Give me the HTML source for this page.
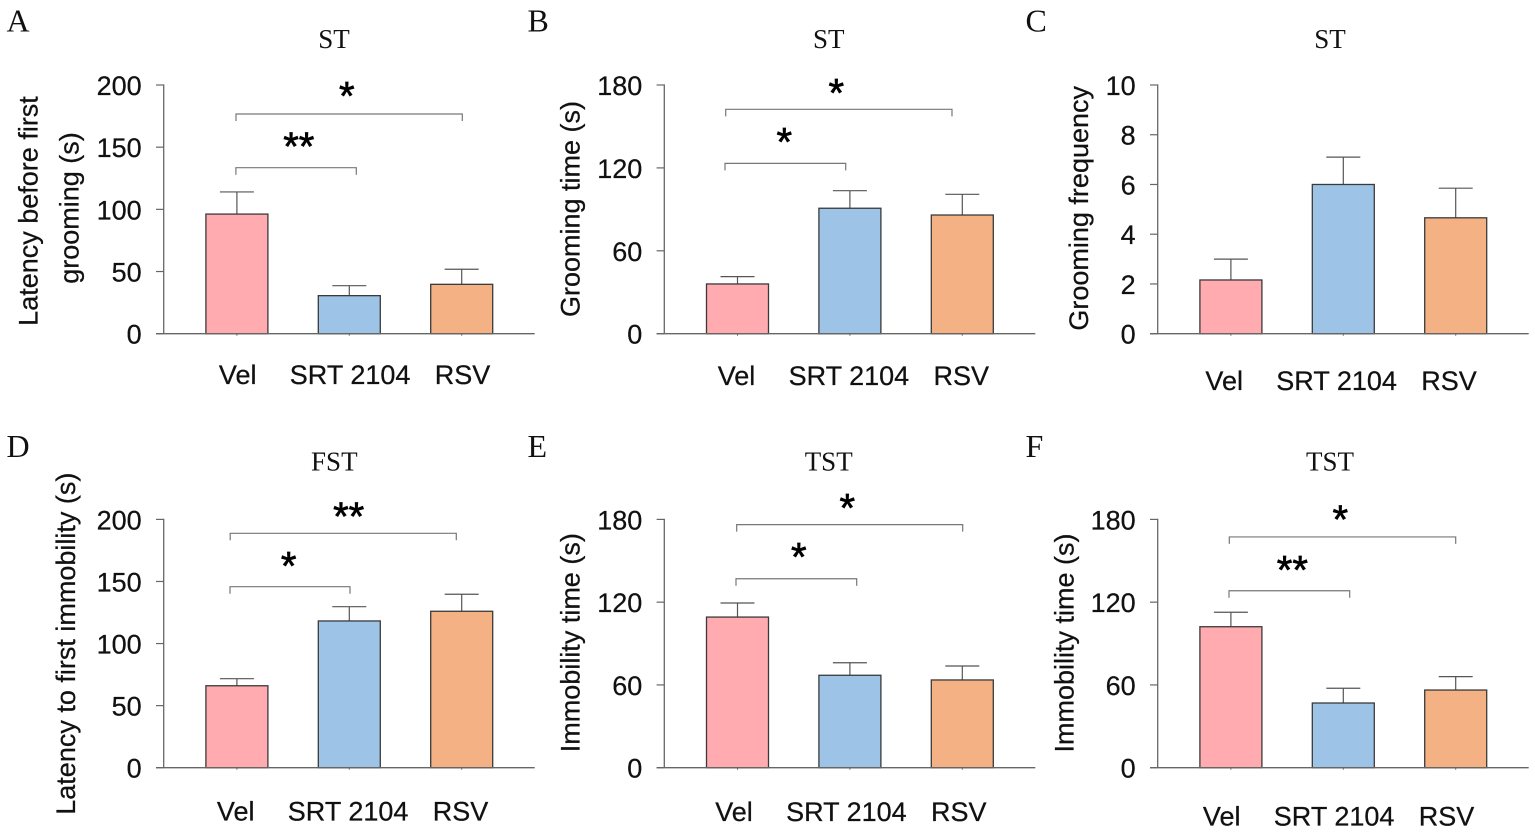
<!DOCTYPE html>
<html lang="en">
<head>
<meta charset="utf-8">
<title>Behavioural test bar charts</title>
<style>
html,body{margin:0;padding:0;background:#fff;width:1535px;height:835px;overflow:hidden}
svg{display:block}
.sans{font-family:"Liberation Sans",Arial,sans-serif;font-size:27px;fill:#111;stroke:#111;stroke-width:.25px}
.serif{font-family:"Liberation Serif","Times New Roman",serif;fill:#111}
.title{font-size:27px}
.letter{font-size:32px}
</style>
</head>
<body>
<svg id="figure" xmlns="http://www.w3.org/2000/svg" width="1535" height="835" viewBox="0 0 1535 835">
  <text class="serif letter" x="6.5" y="31.5">A</text>
  <text class="serif letter" x="527.5" y="31.5">B</text>
  <text class="serif letter" x="1025.5" y="31.5">C</text>
  <text class="serif letter" x="6.5" y="457">D</text>
  <text class="serif letter" x="527.5" y="457">E</text>
  <text class="serif letter" x="1025.5" y="457">F</text>

  <text class="serif title" x="334" y="48" text-anchor="middle">ST</text>
  <text class="serif title" x="828.7" y="48" text-anchor="middle">ST</text>
  <text class="serif title" x="1330" y="48" text-anchor="middle">ST</text>
  <text class="serif title" x="334.3" y="470.3" text-anchor="middle">FST</text>
  <text class="serif title" x="828.7" y="470.3" text-anchor="middle">TST</text>
  <text class="serif title" x="1330" y="470.3" text-anchor="middle">TST</text>

  <text class="sans" transform="translate(37.5 211) rotate(-90)" text-anchor="middle">Latency before first</text>
  <text class="sans" transform="translate(78.3 208) rotate(-90)" text-anchor="middle">grooming (s)</text>
  <text class="sans" transform="translate(579.3 209) rotate(-90)" text-anchor="middle">Grooming time (s)</text>
  <text class="sans" transform="translate(1088 208.3) rotate(-90)" text-anchor="middle">Grooming frequency</text>
  <text class="sans" transform="translate(75 643.7) rotate(-90)" text-anchor="middle">Latency to first immobility (s)</text>
  <text class="sans" transform="translate(579.3 642.7) rotate(-90)" text-anchor="middle">Immobility time (s)</text>
  <text class="sans" transform="translate(1073.3 643) rotate(-90)" text-anchor="middle">Immobility time (s)</text>
</svg>
<script>
const categories = ['Vel', 'SRT 2104', 'RSV'];

const ticksA = [0, 50, 100, 150, 200];
const valuesA = [96.2, 30.6, 39.7];
const errorTopsA = [114, 38.6, 51.8];
const bracketLevelsA = [133.5, 176.7];
const bracketStarsA = ['**', '*'];

const ticksB = [0, 60, 120, 180];
const valuesB = [36, 90.8, 85.9];
const errorTopsB = [41.3, 103.5, 100.9];
const bracketLevelsB = [123.3, 162.4];
const bracketStarsB = ['*', '*'];

const ticksC = [0, 2, 4, 6, 8, 10];
const valuesC = [2.16, 6, 4.66];
const errorTopsC = [3, 7.1, 5.85];
const bracketLevelsC = [];
const bracketStarsC = [];

const ticksD = [0, 50, 100, 150, 200];
const valuesD = [66, 118.2, 126];
const errorTopsD = [71.7, 129.7, 139.7];
const bracketLevelsD = [145.8, 188.8];
const bracketStarsD = ['*', '**'];

const ticksE = [0, 60, 120, 180];
const valuesE = [109.2, 67, 63.6];
const errorTopsE = [119.4, 76.1, 73.7];
const bracketLevelsE = [137, 176.2];
const bracketStarsE = ['*', '*'];

const ticksF = [0, 60, 120, 180];
const valuesF = [102.2, 46.9, 56.3];
const errorTopsF = [112.7, 57.6, 66];
const bracketLevelsF = [128.3, 167.3];
const bracketStarsF = ['**', '*'];

const barColors = ['#ffabb0', '#9dc3e6', '#f4b183'];
const NS = 'http://www.w3.org/2000/svg';
const svg = document.getElementById('figure');

function mk(parent, tag, attrs, text) {
  const el = document.createElementNS(NS, tag);
  for (const k in attrs) el.setAttribute(k, attrs[k]);
  if (text !== undefined) el.textContent = text;
  parent.appendChild(el);
  return el;
}

function drawPanel(p) {
  const g = mk(svg, 'g', {});
  
  

  const yMax = p.ticks[p.ticks.length - 1];
  const yScale = v => p.y0 - (v / yMax) * p.yH;
  const xScale = i => p.x0 + 73.2 + i * 112.4;
  const axisColor = '#666';

  p.ticks.forEach(t => {
    const tick = mk(g, 'line', {x1: p.x0 - 7.7, x2: p.x0, y1: yScale(t), y2: yScale(t), stroke: axisColor, 'stroke-width': 1.2});
    
    
    const label = mk(g, 'text', {class: 'sans', x: p.x0 - 22, y: yScale(t) + 10, 'text-anchor': 'end'}, String(t));
    
    
  });

  const yAxis = mk(g, 'line', {x1: p.x0, x2: p.x0, y1: yScale(yMax) - 0.6, y2: p.y0, stroke: axisColor, 'stroke-width': 1.3});
  
  

  p.values.forEach((v, i) => {
    const cx = xScale(i);
    const stem = mk(g, 'line', {x1: cx, x2: cx, y1: yScale(p.errorTops[i]), y2: yScale(v), stroke: '#555', 'stroke-width': 1.2});
    
    
    const cap = mk(g, 'line', {x1: cx - 17, x2: cx + 17, y1: yScale(p.errorTops[i]), y2: yScale(p.errorTops[i]), stroke: '#555', 'stroke-width': 1.2});
    
    
    const bar = mk(g, 'rect', {x: cx - 31, y: yScale(v), width: 62, height: p.y0 - yScale(v), fill: barColors[i], stroke: '#3a3a3a', 'stroke-width': 1.3});
    
    
    const xTick = mk(g, 'line', {x1: cx, x2: cx, y1: p.y0, y2: p.y0 + 2, stroke: axisColor, 'stroke-width': 1});
    
    
    const catLabel = mk(g, 'text', {class: 'sans', x: cx + p.labelDx, y: p.labelY, 'text-anchor': 'middle'}, categories[i]);
    
    
  });

  const xAxis = mk(g, 'line', {x1: p.x0 - 7.7, x2: p.x0 + 371, y1: p.y0, y2: p.y0, stroke: axisColor, 'stroke-width': 1.3});
  
  

  p.levels.forEach((level, b) => {
    const shape = p.brackets[b];
    const left = xScale(0) + shape.left;
    const right = xScale(b === 0 ? 1 : 2) + shape.right;
    const y = yScale(level);
    const bracket = mk(g, 'path', {d: 'M' + left + ' ' + (y + 7) + 'V' + y + 'H' + right + 'V' + (y + 7), fill: 'none', stroke: '#777', 'stroke-width': 1.2});
    
    
    const star = mk(g, 'text', {class: 'sans', style: 'font-size:40px;fill:#000;stroke:#000;stroke-width:.7px', x: (left + right) / 2 + shape.starDx, y: y + shape.starDy + 19, 'text-anchor': 'middle'}, p.stars[b]);
    
    
  });
}

drawPanel({id: 'a', x0: 163.7, y0: 333.7, yH: 248.7, labelY: 384, labelDx: 0.8, ticks: ticksA, values: valuesA, errorTops: errorTopsA, levels: bracketLevelsA, stars: bracketStarsA,
  brackets: [{left: -1, right: 7, starDx: 2.7, starDy: -26.7}, {left: -0.9, right: 0.6, starDx: -2.4, starDy: -23.3}]});
drawPanel({id: 'b', x0: 664.3, y0: 333.7, yH: 248.7, labelY: 385, labelDx: -1, ticks: ticksB, values: valuesB, errorTops: errorTopsB, levels: bracketLevelsB, stars: bracketStarsB,
  brackets: [{left: -12.5, right: -4.2, starDx: -1, starDy: -27}, {left: -11.8, right: -10.3, starDx: -2.6, starDy: -22}]});
drawPanel({id: 'c', x0: 1157.7, y0: 333.7, yH: 248.7, labelY: 390, labelDx: -6.7, ticks: ticksC, values: valuesC, errorTops: errorTopsC, levels: bracketLevelsC, stars: bracketStarsC, brackets: []});
drawPanel({id: 'd', x0: 163.7, y0: 767.7, yH: 248.3, labelY: 820.3, labelDx: -1.2, ticks: ticksD, values: valuesD, errorTops: errorTopsD, levels: bracketLevelsD, stars: bracketStarsD,
  brackets: [{left: -6.9, right: 0.7, starDx: -1.3, starDy: -26}, {left: -6.7, right: -5.4, starDx: 5.4, starDy: -22.3}]});
drawPanel({id: 'e', x0: 664.3, y0: 767.7, yH: 248.3, labelY: 821, labelDx: -3.5, ticks: ticksE, values: valuesE, errorTops: errorTopsE, levels: bracketLevelsE, stars: bracketStarsE,
  brackets: [{left: -1.5, right: 6.8, starDx: 2.4, starDy: -27}, {left: -0.8, right: 0.4, starDx: -2.4, starDy: -22}]});
drawPanel({id: 'f', x0: 1157.7, y0: 767.7, yH: 248.3, labelY: 825.7, labelDx: -9.2, ticks: ticksF, values: valuesF, errorTops: errorTopsF, levels: bracketLevelsF, stars: bracketStarsF,
  brackets: [{left: -1.9, right: 6.4, starDx: 3, starDy: -26.4}, {left: -1.6, right: 0, starDx: -2.2, starDy: -22.7}]});
</script>
</body>
</html>
